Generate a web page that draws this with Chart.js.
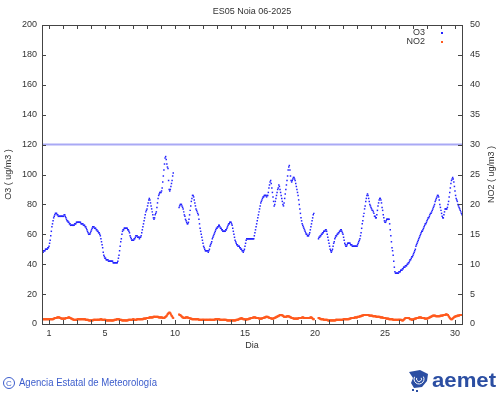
<!DOCTYPE html>
<html>
<head>
<meta charset="utf-8">
<script src="https://cdn.jsdelivr.net/npm/chart.js@4.4.1/dist/chart.umd.min.js"></script>
<style>
  html, body { margin: 0; padding: 0; background: #fff; }
  #wrap { width: 500px; height: 395px; }
</style>
</head>
<body>
<div id="wrap"><canvas id="chart" width="500" height="395"></canvas></div>
<script>
// hourly values, one row per day (24 hours), null = no data
const o3 = [
  [49,48,49,49,49,50,50,50,50,51,51,52,54,56,59,62,65,67,69,71,72,73,74,74],
  [74,73,73,72,72,72,72,72,72,72,72,72,72,73,73,72,71,70,69,69,68,68,67,67],
  [66,66,66,66,66,66,66,67,67,67,68,68,68,68,68,68,68,68,67,67,67,67,66,66],
  [66,65,65,64,63,62,61,60,60,60,61,62,63,64,65,65,65,64,64,64,63,63,62,62],
  [61,61,60,59,57,55,53,51,48,46,45,44,44,43,43,43,43,42,42,42,42,42,42,42],
  [42,41,41,41,41,41,41,41,41,42,44,46,49,52,55,57,60,62,63,63,64,64,64,64],
  [64,64,63,63,62,61,59,58,57,56,56,56,56,57,57,58,59,59,59,58,58,58,57,58],
  [58,59,61,63,65,67,69,71,73,75,76,77,79,81,83,84,83,81,79,77,75,73,71,70],
  [71,73,74,75,78,81,84,86,87,88,88,88,89,91,95,99,103,107,111,112,110,107,105,104],
  [96,90,89,90,92,94,96,99,101,null,null,null,null,null,null,null,null,null,78,79,80,80,80,79],
  [78,77,75,73,72,70,69,68,67,67,68,70,73,76,79,82,84,86,86,85,83,81,79,77],
  [76,75,74,73,70,67,64,62,60,58,56,54,52,51,50,49,49,49,49,49,48,49,50,52],
  [53,54,55,57,58,59,60,61,62,63,64,64,65,65,66,66,65,64,64,63,63,62,62,62],
  [62,62,63,63,64,65,66,67,67,68,68,68,67,66,64,62,60,58,56,55,54,53,53,52],
  [52,52,51,51,50,50,49,49,48,49,50,52,54,56,57,57,57,57,57,57,57,57,57,57],
  [57,57,57,59,61,63,65,67,69,71,73,75,77,79,81,82,83,84,85,85,86,86,86,86],
  [85,86,86,88,91,93,95,96,94,91,88,85,82,79,80,82,84,86,88,90,91,93,92,90],
  [88,86,84,82,80,79,81,84,87,90,93,96,99,103,105,106,103,99,96,95,96,97,98,98],
  [97,96,94,92,90,88,86,83,80,77,74,71,69,67,66,65,64,63,62,61,60,60,59,59],
  [59,60,61,63,65,67,69,71,73,74,null,null,null,null,null,null,null,57,58,58,59,59,60,60],
  [61,61,62,62,62,63,63,62,60,58,56,54,52,50,49,48,49,50,52,54,55,57,58,59],
  [59,60,60,61,61,62,62,63,63,62,61,60,58,56,54,53,52,52,53,54,54,54,54,54],
  [53,53,53,52,52,52,52,52,52,52,52,52,53,54,55,56,57,59,61,64,67,69,72,74],
  [77,79,82,84,86,87,86,84,82,80,79,78,77,76,76,75,74,72,72,71,71,73,76,79],
  [81,83,84,84,83,81,78,76,73,71,69,68,68,69,70,70,70,70,70,67,63,59,55,51],
  [49,46,42,38,35,34,34,34,34,34,34,35,35,35,36,36,36,37,37,38,38,38,39,39],
  [39,40,40,41,41,42,43,43,44,45,45,46,47,48,49,50,52,53,54,55,56,57,58,59],
  [60,61,62,62,63,64,65,66,67,67,68,69,70,71,71,72,73,74,74,75,76,77,78,79],
  [80,82,83,84,85,86,86,85,83,80,78,76,74,72,71,71,73,75,77,77,77,77,78,80],
  [82,85,88,91,94,96,97,98,97,95,92,89,86,84,83,82,80,79,78,77,76,75,74,73]
];

const no2 = [
  [0.8,0.8,0.8,0.8,0.8,0.8,0.8,0.8,0.8,0.8,0.8,0.8,0.8,0.8,0.8,0.8,0.8,0.8,0.8,0.9,0.9,1.0,1.0,1.0],
  [1.0,1.1,1.1,1.1,1.1,1.1,1.0,1.0,0.9,0.9,0.9,0.9,0.9,0.9,0.9,0.9,1.0,1.0,1.0,1.0,1.1,1.1,1.1,1.0],
  [1.0,0.9,0.9,0.8,0.8,0.7,0.7,0.7,0.7,0.7,0.7,0.7,0.8,0.8,0.8,0.8,0.8,0.8,0.8,0.8,0.8,0.8,0.8,0.8],
  [0.8,0.8,0.7,0.7,0.7,0.7,0.7,0.6,0.6,0.6,0.6,0.6,0.6,0.6,0.6,0.7,0.7,0.7,0.7,0.7,0.7,0.7,0.7,0.7],
  [0.7,0.7,0.7,0.8,0.8,0.8,0.7,0.7,0.7,0.7,0.7,0.7,0.7,0.6,0.6,0.6,0.6,0.6,0.6,0.6,0.6,0.6,0.6,0.6],
  [0.6,0.6,0.6,0.7,0.7,0.7,0.7,0.8,0.8,0.8,0.8,0.8,0.7,0.7,0.7,0.7,0.6,0.6,0.6,0.6,0.6,0.6,0.6,0.6],
  [0.6,0.6,0.6,0.7,0.7,0.7,0.7,0.7,0.7,0.7,0.7,0.8,0.8,0.7,0.7,0.7,0.7,0.7,0.8,0.8,0.8,0.8,0.8,0.8],
  [0.8,0.8,0.8,0.8,0.8,0.9,0.9,0.9,0.9,0.9,1.0,1.0,1.0,1.0,1.0,1.1,1.1,1.1,1.1,1.1,1.1,1.1,1.2,1.2],
  [1.2,1.2,1.2,1.2,1.2,1.2,1.2,1.1,1.1,1.1,1.1,1.1,1.1,1.1,1.0,1.0,1.0,1.1,1.1,1.2,1.3,1.4,1.6,1.7],
  [1.8,1.9,1.9,1.8,1.6,1.4,1.3,1.1,1.0,null,null,null,null,null,null,null,null,null,1.6,1.5,1.5,1.4,1.3,1.2],
  [1.1,1.1,1.0,1.0,1.0,1.1,1.1,1.1,1.1,1.1,1.0,1.0,1.0,0.9,0.9,0.9,0.8,0.8,0.8,0.8,0.8,0.8,0.8,0.8],
  [0.8,0.8,0.8,0.8,0.7,0.7,0.7,0.7,0.7,0.7,0.7,0.7,0.7,0.7,0.7,0.7,0.7,0.7,0.7,0.7,0.7,0.7,0.7,0.7],
  [0.7,0.7,0.7,0.7,0.7,0.7,0.7,0.7,0.8,0.8,0.8,0.8,0.8,0.8,0.8,0.8,0.7,0.7,0.7,0.7,0.7,0.7,0.7,0.7],
  [0.7,0.7,0.7,0.7,0.6,0.6,0.6,0.6,0.6,0.6,0.6,0.6,0.6,0.6,0.6,0.6,0.6,0.6,0.6,0.6,0.7,0.7,0.7,0.7],
  [0.8,0.8,0.9,0.9,0.9,1.0,0.9,0.9,0.8,0.8,0.8,0.8,0.7,0.7,0.8,0.8,0.8,0.8,0.9,0.9,0.9,1.0,1.0,1.0],
  [1.0,1.1,1.1,1.1,1.1,1.1,1.0,1.0,1.0,1.0,1.0,0.9,0.9,0.9,0.9,0.9,0.9,1.0,1.0,1.0,1.1,1.1,1.1,1.2],
  [1.2,1.2,1.2,1.1,1.1,1.0,1.0,1.0,0.9,0.9,0.9,0.9,0.9,1.0,1.0,1.1,1.1,1.2,1.2,1.3,1.3,1.4,1.4,1.5],
  [1.5,1.5,1.5,1.4,1.4,1.3,1.2,1.2,1.2,1.2,1.2,1.3,1.3,1.3,1.3,1.2,1.2,1.1,1.1,1.0,1.0,1.0,0.9,0.9],
  [0.9,0.9,0.9,0.9,0.9,0.9,0.9,1.0,1.0,1.0,1.0,1.0,1.0,1.1,1.1,1.1,1.0,1.0,1.0,1.0,1.0,1.0,1.0,1.0],
  [1.0,1.0,1.0,1.1,1.1,1.1,1.0,0.9,0.8,0.8,null,null,null,null,null,null,null,1.0,1.0,0.9,0.9,0.8,0.8,0.8],
  [0.8,0.8,0.7,0.7,0.7,0.7,0.7,0.7,0.7,0.6,0.6,0.6,0.6,0.6,0.6,0.6,0.6,0.6,0.6,0.6,0.6,0.6,0.6,0.7],
  [0.7,0.7,0.7,0.7,0.7,0.7,0.7,0.7,0.7,0.7,0.7,0.7,0.8,0.8,0.8,0.8,0.8,0.8,0.8,0.8,0.8,0.8,0.9,0.9],
  [0.9,1.0,1.0,1.0,1.0,1.0,1.0,1.1,1.1,1.1,1.1,1.1,1.2,1.2,1.2,1.2,1.3,1.3,1.3,1.4,1.4,1.4,1.5,1.5],
  [1.5,1.5,1.5,1.5,1.5,1.5,1.5,1.5,1.4,1.4,1.4,1.4,1.4,1.4,1.3,1.3,1.3,1.3,1.3,1.3,1.2,1.2,1.2,1.2],
  [1.2,1.2,1.2,1.1,1.1,1.1,1.1,1.1,1.0,1.0,1.0,1.0,1.0,0.9,0.9,0.9,0.9,0.9,0.8,0.8,0.8,0.8,0.8,0.8],
  [0.8,0.7,0.7,0.7,0.7,0.7,0.7,0.7,0.7,0.7,0.7,0.7,0.7,0.7,0.7,0.7,0.6,0.6,0.6,0.7,0.8,0.9,1.0,1.0],
  [1.0,1.0,1.0,1.0,1.0,0.9,0.8,0.8,0.8,0.7,0.7,0.8,0.8,0.8,0.9,0.9,0.9,1.0,1.0,1.0,1.0,1.1,1.1,1.1],
  [1.1,1.1,1.0,1.0,1.0,1.0,1.0,0.9,0.9,0.9,0.9,0.9,0.9,1.0,1.0,1.1,1.1,1.2,1.2,1.3,1.3,1.4,1.4,1.4],
  [1.4,1.4,1.3,1.3,1.3,1.3,1.3,1.3,1.3,1.3,1.4,1.4,1.4,1.4,1.4,1.5,1.5,1.5,1.5,1.6,1.6,1.6,1.5,1.5],
  [1.3,1.2,1.0,0.9,0.8,0.8,0.8,0.9,1.0,1.1,1.2,1.2,1.3,1.3,1.3,1.4,1.4,1.4,1.4,1.5,1.5,1.5,1.5,1.5]
];

const xTickLabels = [1, 5, 10, 15, 20, 25, 30];
const o3Limit = 120;
const chartTitle = 'ES05 Noia 06-2025';

// day d, hour h -> x position d + (h-12)/24
function toPoints(rows) {
    const pts = [];
    rows.forEach((row, i) => {
        row.forEach((v, h) => {
            pts.push({ x: (i + 1) + (h + 1 - 12) / 24, y: v });
        });
    });
    return pts;
}

const days = o3.map((row, i) => i + 1);
const FONT = '"Liberation Sans", Arial, sans-serif';
const TXT = '#333333';

const decor = {
    id: 'decor',
    afterDraw(chart) {
        const ctx = chart.ctx;
        const a = chart.chartArea;
        const xs = chart.scales.x, ys = chart.scales.y, y2 = chart.scales.y2;
        ctx.save();

        // frame
        ctx.strokeStyle = '#444';
        ctx.lineWidth = 1;
        ctx.strokeRect(a.left + 0.5, a.top + 0.5, a.right - a.left, a.bottom - a.top);

        // inward tick marks
        ctx.beginPath();
        days.forEach(d => {
            const px = Math.round(xs.getPixelForValue(d)) + 0.5;
            ctx.moveTo(px, a.bottom); ctx.lineTo(px, a.bottom - 4);
            ctx.moveTo(px, a.top); ctx.lineTo(px, a.top + 4);
        });
        ys.ticks.forEach(t => {
            const py = Math.round(ys.getPixelForValue(t.value)) + 0.5;
            ctx.moveTo(a.left, py); ctx.lineTo(a.left + 4, py);
        });
        y2.ticks.forEach(t => {
            const py = Math.round(y2.getPixelForValue(t.value)) + 0.5;
            ctx.moveTo(a.right, py); ctx.lineTo(a.right - 4, py);
        });
        ctx.stroke();

        // title
        ctx.fillStyle = TXT;
        ctx.font = '9px ' + FONT;
        ctx.textAlign = 'center';
        ctx.textBaseline = 'middle';
        ctx.fillText(chartTitle, 252, 12);

        // x axis title
        ctx.fillText('Dia', 252, 346);

        // y axis titles (both read bottom to top)
        ctx.save();
        ctx.translate(9, (a.top + a.bottom) / 2);
        ctx.rotate(-Math.PI / 2);
        ctx.fillText('O3 ( ug/m3 )', 0, 0);
        ctx.restore();
        ctx.save();
        ctx.translate(492, (a.top + a.bottom) / 2);
        ctx.rotate(-Math.PI / 2);
        ctx.fillText('NO2 ( ug/m3 )', 0, 0);
        ctx.restore();

        // legend
        ctx.textAlign = 'right';
        chart.data.datasets.forEach((ds, i) => {
            if (!ds.inLegend) return;
            const ly = 33 + ds.inLegend * 9 - 9;
            ctx.fillStyle = TXT;
            ctx.fillText(ds.label, 425, ly);
            ctx.fillStyle = ds.backgroundColor;
            ctx.fillRect(441, Math.round(ly) - 1, 2, 2);
        });

        // footer
        ctx.fillStyle = '#3b5ccc';
        ctx.textAlign = 'left';
        ctx.lineWidth = 1;
        ctx.strokeStyle = '#3b5ccc';
        ctx.beginPath();
        ctx.arc(9, 383, 5.5, 0, Math.PI * 2);
        ctx.stroke();
        ctx.font = '8px ' + FONT;
        ctx.textAlign = 'center';
        ctx.fillText('C', 9, 383.5);
        ctx.textAlign = 'left';
        const foot = 'Agencia Estatal de Meteorología';
        ctx.font = '10px ' + FONT;
        const fw = ctx.measureText(foot).width;
        ctx.save();
        ctx.translate(19, 383);
        ctx.scale(138 / fw, 1);
        ctx.fillText(foot, 0, 0);
        ctx.restore();

        // logo
        const blue = '#2b4ea2';
        ctx.fillStyle = blue;
        ctx.beginPath();
        ctx.moveTo(409, 372);
        ctx.lineTo(420, 370);
        ctx.lineTo(428, 374);
        ctx.lineTo(427, 381);
        ctx.lineTo(422, 387);
        ctx.lineTo(414, 388);
        ctx.lineTo(411, 383);
        ctx.lineTo(413, 378);
        ctx.closePath();
        ctx.fill();
        ctx.strokeStyle = '#fff';
        ctx.lineWidth = 1;
        [2.5, 5].forEach(r => {
            ctx.beginPath();
            ctx.arc(419, 379, r, -0.5, 3.6);
            ctx.stroke();
        });
        ctx.fillStyle = blue;
        ctx.fillRect(412, 389, 2, 2);
        ctx.fillRect(416, 390, 2, 2);
        ctx.font = 'bold 20px ' + FONT;
        const lw = ctx.measureText('aemet').width;
        ctx.save();
        ctx.translate(432, 386.5);
        ctx.scale(64 / lw, 1);
        ctx.textBaseline = 'alphabetic';
        ctx.fillText('aemet', 0, 0);
        ctx.restore();

        ctx.restore();
    }
};

const ctx = document.getElementById('chart').getContext('2d');
new Chart(ctx, {
    type: 'scatter',
    data: {
        datasets: [
            {
                type: 'line',
                label: 'limit',
                data: [{ x: 0.5, y: o3Limit }, { x: 30.5, y: o3Limit }],
                yAxisID: 'y',
                borderColor: '#a9a9f5',
                borderWidth: 2,
                pointRadius: 0,
                order: 3
            },
            {
                label: 'O3',
                inLegend: 1,
                data: toPoints(o3),
                yAxisID: 'y',
                backgroundColor: '#2424ff',
                borderWidth: 0,
                pointStyle: 'rect',
                pointRadius: 1.05,
                order: 1
            },
            {
                label: 'NO2',
                inLegend: 2,
                data: toPoints(no2),
                yAxisID: 'y2',
                backgroundColor: '#ff5a1e',
                borderWidth: 0,
                pointStyle: 'rect',
                pointRadius: 1.4,
                order: 2
            }
        ]
    },
    options: {
        responsive: false,
        animation: false,
        devicePixelRatio: 1,
        layout: { padding: { top: 25, left: 0, right: 0, bottom: 0 } },
        plugins: {
            legend: { display: false },
            tooltip: { enabled: false },
            title: { display: false }
        },
        scales: {
            x: {
                type: 'linear',
                min: 0.5,
                max: 30.5,
                afterBuildTicks: s => { s.ticks = days.map(d => ({ value: d })); },
                afterFit: s => { s.height = 71; },
                grid: { display: false, drawTicks: false },
                border: { display: false },
                ticks: {
                    autoSkip: false,
                    maxRotation: 0,
                    padding: 4,
                    color: TXT,
                    font: { family: FONT, size: 9 },
                    callback: v => xTickLabels.includes(v) ? String(v) : ''
                }
            },
            y: {
                position: 'left',
                min: 0,
                max: 200,
                afterFit: s => { s.width = 42; },
                grid: { display: false, drawTicks: false },
                border: { display: false },
                ticks: { stepSize: 20, padding: 5, color: TXT, font: { family: FONT, size: 9 } }
            },
            y2: {
                position: 'right',
                min: 0,
                max: 50,
                afterFit: s => { s.width = 38; },
                grid: { display: false, drawTicks: false },
                border: { display: false },
                ticks: { stepSize: 5, padding: 8, color: TXT, font: { family: FONT, size: 9 } }
            }
        }
    },
    plugins: [decor]
});
</script>
</body>
</html>
